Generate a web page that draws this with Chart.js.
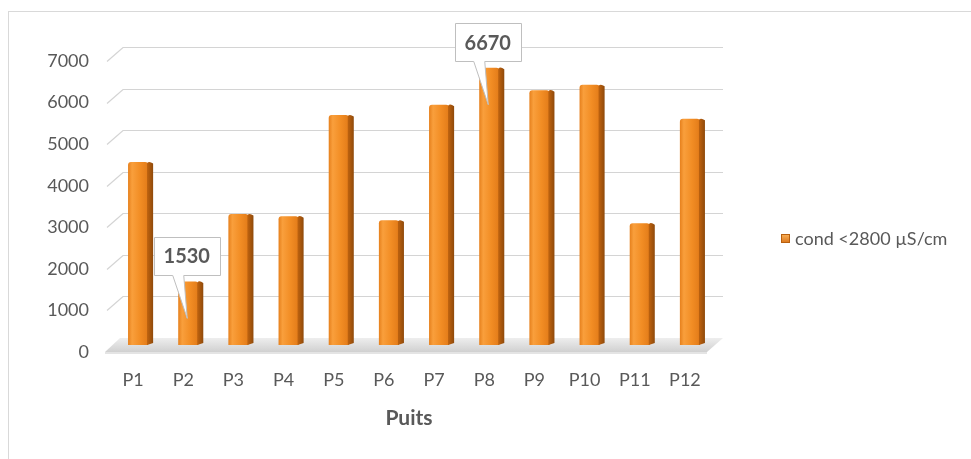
<!DOCTYPE html>
<html>
<head>
<meta charset="utf-8">
<title>Conductivité par puits</title>
<script src="https://cdn.jsdelivr.net/npm/chart.js@4/dist/chart.umd.min.js"></script>
<style>
  html, body { margin: 0; padding: 0; background: #ffffff; }
  canvas { display: block; }
</style>
</head>
<body>
<canvas id="chart" width="971" height="459"></canvas>
<script>
// Wells and measured conductivity
const categories = ['P1', 'P2', 'P3', 'P4', 'P5', 'P6', 'P7', 'P8', 'P9', 'P10', 'P11', 'P12'];
const condValues = [4400, 1530, 3150, 3100, 5530, 3000, 5780, 6670, 6130, 6260, 2930, 5440];
const seriesLabel = 'cond <2800 µS/cm';
const axisTitle = 'Puits';
const yTickValues = [0, 1000, 2000, 3000, 4000, 5000, 6000, 7000];
// wells whose value is written in a callout
const calloutIndexes = [1, 7];

const FONT = 'Lato, "Open Sans", sans-serif';
const TEXT = '#595959';
const GRID = '#d4d4d4';
const DEPTH = { x: 15, y: -14 };     // offset of the back wall
const BAR_SHIFT = { x: 5, y: -7 };   // columns stand half way into the depth
const BAR_FRACTION = 0.4;
const SIDE = 5;                      // visible right face of each column

function barGradient(ctx, left, right) {
  const g = ctx.createLinearGradient(left, 0, right, 0);
  g.addColorStop(0, '#e6801c');
  g.addColorStop(0.2, '#f99f3c');
  g.addColorStop(0.6, '#f28d24');
  g.addColorStop(1, '#e27b19');
  return g;
}

// white page with a thin grey frame
const framePlugin = {
  id: 'frame',
  beforeDraw(chart) {
    const ctx = chart.ctx;
    ctx.save();
    ctx.fillStyle = '#ffffff';
    ctx.fillRect(0, 0, chart.width, chart.height);
    ctx.strokeStyle = '#d9d9d9';
    ctx.lineWidth = 1;
    ctx.strokeRect(8.5, 11.5, chart.width + 10, chart.height + 10);
    ctx.restore();
  }
};

// back wall grid, left wall edges and floor; columns are drawn shifted into the depth
const wallPlugin = {
  id: 'walls',
  beforeDatasetsDraw(chart) {
    const ctx = chart.ctx;
    const y = chart.scales.y;
    const { left, right } = chart.chartArea;
    ctx.save();
    ctx.strokeStyle = GRID;
    ctx.lineWidth = 1.2;
    y.ticks.forEach(t => {
      if (t.value === 0) return;
      const py = Math.round(y.getPixelForValue(t.value)) + 0.5;
      ctx.beginPath();
      ctx.moveTo(left - 1, py);
      ctx.lineTo(left + DEPTH.x, py + DEPTH.y);
      ctx.lineTo(right + DEPTH.x - 2, py + DEPTH.y);
      ctx.stroke();
    });
    // floor
    const y0 = y.getPixelForValue(0);
    const fl = left - 3;
    ctx.beginPath();
    ctx.moveTo(fl, y0);
    ctx.lineTo(right - 3, y0);
    ctx.lineTo(right + DEPTH.x - 2, y0 + DEPTH.y);
    ctx.lineTo(fl + DEPTH.x, y0 + DEPTH.y);
    ctx.closePath();
    const fg = ctx.createLinearGradient(0, y0 + DEPTH.y, 0, y0);
    fg.addColorStop(0, '#eeeeee');
    fg.addColorStop(1, '#d0d0d0');
    ctx.fillStyle = fg;
    ctx.fill();
    // floor front edge
    ctx.fillStyle = '#e4e4e4';
    ctx.fillRect(fl, y0, right - 3 - fl, 2);
    ctx.restore();

    ctx.save();
    ctx.translate(BAR_SHIFT.x, BAR_SHIFT.y);
  },
  afterDatasetsDraw(chart) {
    const ctx = chart.ctx;
    const meta = chart.getDatasetMeta(0);
    meta.data.forEach(el => {
      const { x, y, base, width } = el.getProps(['x', 'y', 'base', 'width'], true);
      const r = x + width / 2;
      const g = ctx.createLinearGradient(r, 0, r + SIDE, 0);
      g.addColorStop(0, '#b85f0e');
      g.addColorStop(1, '#8f4a0b');
      ctx.beginPath();
      ctx.moveTo(r - 1, y + 1);
      ctx.quadraticCurveTo(r + 1, y - 1.5, r + SIDE, y + 1.5);
      ctx.lineTo(r + SIDE, base - 2);
      ctx.lineTo(r - 1, base);
      ctx.closePath();
      ctx.fillStyle = g;
      ctx.fill();
    });
    ctx.restore();
  }
};

// value callouts above the marked wells
const calloutPlugin = {
  id: 'callouts',
  afterDraw(chart) {
    const ctx = chart.ctx;
    const meta = chart.getDatasetMeta(0);
    ctx.save();
    ctx.font = 'bold 20px ' + FONT;
    calloutIndexes.forEach(i => {
      const el = meta.data[i];
      const bx = el.x + BAR_SHIFT.x;
      const top = el.y + BAR_SHIFT.y;
      const text = String(condValues[i]);
      const w = ctx.measureText(text).width + 20;
      const h = 38;
      const cx = bx - 1.5;
      const cy = top - 25.5;
      const l = Math.round(cx - w / 2) + 0.5, t = Math.round(cy - h / 2) + 0.5;
      const rr = l + Math.round(w), b = t + h;
      ctx.beginPath();
      ctx.moveTo(l, t);
      ctx.lineTo(rr, t);
      ctx.lineTo(rr, b);
      ctx.lineTo(cx - 3, b);
      ctx.lineTo(bx - 1, top + 37);
      ctx.lineTo(cx - 14, b);
      ctx.lineTo(l, b);
      ctx.closePath();
      ctx.fillStyle = '#ffffff';
      ctx.fill();
      ctx.strokeStyle = '#bfbfbf';
      ctx.lineWidth = 1;
      ctx.stroke();
      ctx.fillStyle = TEXT;
      ctx.textAlign = 'center';
      ctx.textBaseline = 'middle';
      ctx.fillText(text, cx, cy + 1);
    });
    ctx.restore();
  }
};

// legend on the right
const legendPlugin = {
  id: 'sideLegend',
  afterDraw(chart) {
    const ctx = chart.ctx;
    const ds = chart.data.datasets[0];
    const sx = 781, sy = 234, s = 9;
    ctx.save();
    const g = ctx.createLinearGradient(0, sy, 0, sy + s);
    g.addColorStop(0, '#fbb35a');
    g.addColorStop(1, '#d9741a');
    ctx.fillStyle = g;
    ctx.fillRect(sx, sy, s, s);
    ctx.strokeStyle = '#b8600f';
    ctx.lineWidth = 1;
    ctx.strokeRect(sx + 0.5, sy + 0.5, s - 1, s - 1);
    ctx.fillStyle = TEXT;
    ctx.font = '18px ' + FONT;
    ctx.textAlign = 'left';
    ctx.textBaseline = 'middle';
    ctx.fillText(ds.label, 795, sy + s / 2 + 1);
    ctx.restore();
  }
};

new Chart(document.getElementById('chart'), {
  type: 'bar',
  data: {
    labels: categories,
    datasets: [{
      label: seriesLabel,
      data: condValues,
      categoryPercentage: 1,
      barPercentage: BAR_FRACTION,
      borderRadius: { topLeft: 3, topRight: 3, bottomLeft: 0, bottomRight: 0 },
      borderSkipped: false,
      backgroundColor(c) {
        const x = c.chart.scales.x;
        if (!x || c.type !== 'data') return '#f28d24';
        const cx = x.getPixelForValue(c.dataIndex);
        const w = x.width / categories.length * BAR_FRACTION;
        if (!isFinite(cx) || !isFinite(w) || w <= 0) return '#f28d24';
        return barGradient(c.chart.ctx, cx - w / 2, cx + w / 2);
      }
    }]
  },
  options: {
    responsive: false,
    devicePixelRatio: 1,
    animation: false,
    layout: { padding: { left: 0, top: 61, right: 261, bottom: 27 } },
    plugins: {
      legend: { display: false },
      tooltip: { enabled: false }
    },
    scales: {
      x: {
        grid: { display: false, drawTicks: false },
        border: { display: false },
        ticks: { color: TEXT, font: { family: FONT, size: 18 }, padding: 17, maxRotation: 0 },
        title: {
          display: true,
          text: axisTitle,
          color: TEXT,
          font: { family: FONT, size: 21, weight: 'bold' },
          padding: { top: 4, bottom: 1 }
        },
        afterFit(scale) { scale.height = 80; }
      },
      y: {
        min: 0,
        max: 7000,
        grid: { display: false, drawTicks: false },
        border: { display: false },
        ticks: {
          color: TEXT,
          font: { family: FONT, size: 18 },
          padding: 19,
          callback: v => String(v)
        },
        afterBuildTicks(scale) { scale.ticks = yTickValues.map(v => ({ value: v })); },
        afterFit(scale) { scale.width = 108; }
      }
    }
  },
  plugins: [framePlugin, wallPlugin, calloutPlugin, legendPlugin]
});
</script>
</body>
</html>
